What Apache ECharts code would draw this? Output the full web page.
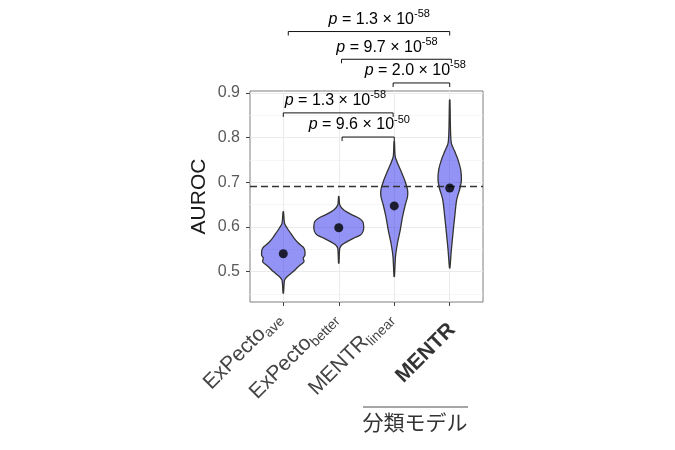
<!DOCTYPE html>
<html><head><meta charset="utf-8">
<script src="https://cdn.jsdelivr.net/npm/echarts@6/dist/echarts.min.js"></script>
<style>html,body{margin:0;padding:0;background:#fff}#c{width:675px;height:450px}</style>
</head><body><div id="c"></div>
<script>
// ---- data ----
const catMain = ['ExPecto', 'ExPecto', 'MENTR', 'MENTR'];
const catSub  = ['ave', 'better', 'linear', ''];
const yTicks = [0.5, 0.6, 0.7, 0.8, 0.9];
const yMinor = [0.45, 0.55, 0.65, 0.75, 0.85];
const means = [0.540, 0.598, 0.647, 0.687];
const baseline = 0.687;
// violin outlines: AUROC values and half widths (category units)
const v1Y = [0.634, 0.608, 0.597, 0.586, 0.575, 0.564, 0.556, 0.549, 0.537, 0.530, 0.522, 0.511, 0.500, 0.489, 0.481, 0.452];
const v1W = [0.004, 0.023, 0.072, 0.132, 0.193, 0.270, 0.348, 0.384, 0.391, 0.360, 0.373, 0.270, 0.180, 0.072, 0.023, 0.004];
const v2Y = [0.668, 0.649, 0.638, 0.627, 0.620, 0.612, 0.601, 0.590, 0.582, 0.575, 0.567, 0.560, 0.552, 0.519];
const v2W = [0.004, 0.018, 0.090, 0.240, 0.360, 0.432, 0.450, 0.438, 0.391, 0.270, 0.150, 0.059, 0.018, 0.004];
const v3Y = [0.791, 0.757, 0.739, 0.720, 0.701, 0.683, 0.668, 0.649, 0.623, 0.593, 0.564, 0.534, 0.489];
const v3W = [0.004, 0.018, 0.072, 0.138, 0.198, 0.240, 0.240, 0.198, 0.150, 0.108, 0.059, 0.023, 0.004];
const v4Y = [0.884, 0.817, 0.787, 0.769, 0.750, 0.728, 0.705, 0.687, 0.661, 0.623, 0.586, 0.549, 0.508];
const v4W = [0.004, 0.014, 0.030, 0.090, 0.150, 0.198, 0.211, 0.186, 0.126, 0.090, 0.059, 0.030, 0.004];
// significance brackets
const brFrom  = [1.09, 2.05, 2.98, 1.00, 2.06];
const brTo    = [4.00, 4.03, 4.00, 2.98, 3.00];
const brY     = [1.037, 0.975, 0.922, 0.855, 0.801];
const brTextX = [2.73, 2.87, 3.38, 1.94, 2.37];
const pMant   = ['1.3', '9.7', '2.0', '1.3', '9.6'];
const pExp    = ['-58', '-58', '-58', '-58', '-50'];

const violinY = [v1Y, v2Y, v3Y, v4Y];
const violinW = [v1W, v2W, v3W, v4W];
const FONT = '"Liberation Sans", Arial, Helvetica, sans-serif';

function renderViolin(params, api) {
  const k = params.dataIndex;
  const ys = violinY[k], ws = violinW[k], x = k + 1;
  const pts = [];
  for (let j = 0; j < ys.length; j++) pts.push(api.coord([x + ws[j], ys[j]]));
  for (let j = ys.length - 1; j >= 0; j--) pts.push(api.coord([x - ws[j], ys[j]]));
  return {
    type: 'polygon',
    shape: { points: pts, smooth: 0.25 },
    style: { fill: 'rgba(30,30,235,0.48)', stroke: '#333', lineWidth: 1.3 }
  };
}

function renderBracket(params, api) {
  const i = params.dataIndex;
  const a = api.coord([api.value(0), api.value(2)]);
  const b = api.coord([api.value(1), api.value(2)]);
  const t = api.coord([api.value(3), api.value(2)]);
  return {
    type: 'group',
    children: [
      { type: 'polyline',
        shape: { points: [[a[0], a[1] + 4], [a[0], a[1]], [b[0], b[1]], [b[0], b[1] + 4]] },
        style: { stroke: '#111', lineWidth: 1, fill: null } },
      { type: 'text', x: t[0], y: t[1] - 12,
        style: {
          text: '{i|p} = ' + pMant[i] + ' × 10{s|' + pExp[i] + '}',
          align: 'center', verticalAlign: 'middle',
          fill: '#000', fontSize: 16, fontFamily: FONT, lineHeight: 22,
          rich: {
            i: { fontSize: 16, fontStyle: 'italic', fontFamily: FONT, lineHeight: 22 },
            s: { fontSize: 11, fontFamily: FONT, lineHeight: 11, verticalAlign: 'top' }
          }
        } }
    ]
  };
}

const chart = echarts.init(document.getElementById('c'), null, { renderer: 'canvas' });
chart.setOption({
  animation: false,
  backgroundColor: '#fff',
  grid: { left: 250, right: 192, top: 91, bottom: 148, show: true, borderColor: '#7f7f7f', borderWidth: 1, outerBoundsMode: 'none' },
  xAxis: {
    type: 'value', min: 0.4, max: 4.6,
    axisLine: { show: false },
    axisTick: { show: true, customValues: [1, 2, 3, 4], length: 4, lineStyle: { color: '#444' } },
    splitLine: { show: true, lineStyle: { color: '#ebebeb', width: 1 } },
    axisLabel: {
      customValues: [1, 2, 3, 4], rotate: 45, margin: 8,
      padding: [0, 7, 0, 0],
      color: '#444',
      formatter: function (v) {
        const k = Math.round(v) - 1;
        if (!catSub[k]) return '{b|' + catMain[k] + '}';
        return '{m|' + catMain[k] + '}{s|' + catSub[k] + '}';
      },
      rich: {
        m: { fontSize: 21, fontFamily: FONT, lineHeight: 26, color: '#444' },
        b: { fontSize: 21, fontFamily: FONT, lineHeight: 26, fontWeight: 'bold', color: '#333', padding: [27, 3, 0, 0] },
        s: { fontSize: 14, fontFamily: FONT, lineHeight: 14, verticalAlign: 'bottom', color: '#444' }
      }
    }
  },
  yAxis: [{
    type: 'value', min: 0.432, max: 0.904,
    name: 'AUROC', nameLocation: 'middle', nameRotate: 90, nameGap: 40,
    nameTextStyle: { fontSize: 21, fontFamily: FONT, color: '#1a1a1a' },
    axisLine: { show: false },
    axisTick: { show: true, customValues: yTicks, length: 4, lineStyle: { color: '#444' } },
    axisLabel: { customValues: yTicks, margin: 10, fontSize: 16, fontFamily: FONT, color: '#5a5a5a',
                 formatter: function (v) { return v.toFixed(1); } },
    splitLine: { show: true, lineStyle: { color: '#ebebeb', width: 1 } }
  }, {
    type: 'value', min: 0.432, max: 0.904, position: 'left',
    axisLine: { show: false }, axisLabel: { show: false },
    axisTick: { show: false, customValues: yMinor },
    splitLine: { show: true, lineStyle: { color: '#f4f4f4', width: 0.8 } }
  }],
  graphic: [
    { type: 'line', shape: { x1: 363, y1: 407, x2: 468, y2: 407 }, style: { stroke: '#888', lineWidth: 1.5 } },
    { type: 'text', x: 415, y: 422,
      style: { text: '分類モデル', align: 'center', textAlign: 'center', verticalAlign: 'middle',
               fontSize: 21, fontFamily: '"Noto Sans CJK JP"', fill: '#333' } }
  ],
  series: [
    {
      type: 'custom', name: 'violin', z: 2,
      renderItem: renderViolin,
      data: means.map(function (m, i) { return [i + 1, m]; }),
      encode: { x: 0, y: 1 },
      markLine: {
        silent: true, symbol: ['none', 'none'], label: { show: false },
        lineStyle: { type: [7, 4], color: '#333', width: 1.3 },
        data: [{ yAxis: baseline }]
      }
    },
    {
      type: 'scatter', name: 'mean', z: 10,
      symbolSize: 9, itemStyle: { color: '#000' },
      data: means.map(function (m, i) { return [i + 1, m]; })
    },
    {
      type: 'custom', name: 'brackets', z: 8, clip: false,
      renderItem: renderBracket,
      data: brFrom.map(function (f, i) { return [f, brTo[i], brY[i], brTextX[i]]; }),
      encode: { x: [0, 1, 3], y: 2 }
    }
  ]
});
</script>
</body></html>
